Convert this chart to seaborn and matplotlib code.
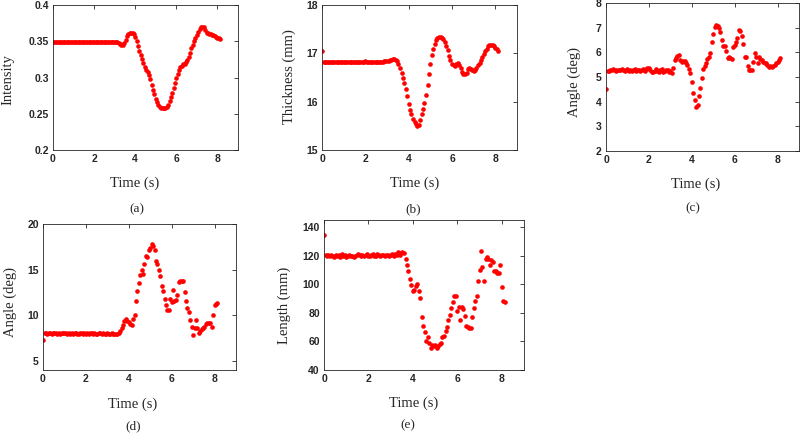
import matplotlib
matplotlib.use('Agg')
import matplotlib.pyplot as plt
import seaborn as sns

# frame times (15 fps)
time_s = [
    0.00, 0.07, 0.13, 0.20, 0.27, 0.33, 0.40, 0.47, 0.53, 0.60,
    0.67, 0.73, 0.80, 0.87, 0.93, 1.00, 1.07, 1.13, 1.20, 1.27,
    1.33, 1.40, 1.47, 1.53, 1.60, 1.67, 1.73, 1.80, 1.87, 1.93,
    2.00, 2.07, 2.13, 2.20, 2.27, 2.33, 2.40, 2.47, 2.53, 2.60,
    2.67, 2.73, 2.80, 2.87, 2.93, 3.00, 3.07, 3.13, 3.20, 3.27,
    3.33, 3.40, 3.47, 3.53, 3.60, 3.67, 3.73, 3.80, 3.87, 3.93,
    4.00, 4.07, 4.13, 4.20, 4.27, 4.33, 4.40, 4.47, 4.53, 4.60,
    4.67, 4.73, 4.80, 4.87, 4.93, 5.00, 5.07, 5.13, 5.20, 5.27,
    5.33, 5.40, 5.47, 5.53, 5.60, 5.67, 5.73, 5.80, 5.87, 5.93,
    6.00, 6.07, 6.13, 6.20, 6.27, 6.33, 6.40, 6.47, 6.53, 6.60,
    6.67, 6.73, 6.80, 6.87, 6.93, 7.00, 7.07, 7.13, 7.20, 7.27,
    7.33, 7.40, 7.47, 7.53, 7.60, 7.67, 7.73, 7.80, 7.87, 7.93,
    8.00, 8.07, 8.13,
]

intensity = [
    0.3495, 0.3494, 0.3493, 0.3493, 0.3492, 0.3492, 0.3491, 0.3491, 0.3490, 0.3490,
    0.3490, 0.3489, 0.3489, 0.3489, 0.3488, 0.3488, 0.3488, 0.3488, 0.3487, 0.3487,
    0.3487, 0.3487, 0.3487, 0.3487, 0.3487, 0.3487, 0.3487, 0.3487, 0.3487, 0.3487,
    0.3487, 0.3487, 0.3487, 0.3487, 0.3487, 0.3487, 0.3487, 0.3488, 0.3488, 0.3488,
    0.3488, 0.3488, 0.3488, 0.3488, 0.3489, 0.3490, 0.3490, 0.3485, 0.3470, 0.3460,
    0.3448, 0.3445, 0.3470, 0.3520, 0.3570, 0.3600, 0.3615, 0.3620, 0.3620, 0.3600,
    0.3560, 0.3500, 0.3430, 0.3370, 0.3310, 0.3250, 0.3200, 0.3150, 0.3110, 0.3070,
    0.3030, 0.2980, 0.2900, 0.2830, 0.2770, 0.2710, 0.2660, 0.2620, 0.2595, 0.2580,
    0.2575, 0.2575, 0.2580, 0.2590, 0.2620, 0.2670, 0.2730, 0.2790, 0.2860, 0.2930,
    0.2990, 0.3050, 0.3100, 0.3140, 0.3160, 0.3180, 0.3190, 0.3210, 0.3240, 0.3280,
    0.3340, 0.3400, 0.3450, 0.3500, 0.3550, 0.3590, 0.3630, 0.3670, 0.3690, 0.3700,
    0.3690, 0.3660, 0.3620, 0.3610, 0.3600, 0.3600, 0.3590, 0.3580, 0.3570, 0.3560,
    0.3550, 0.3540, 0.3535,
]

thickness_mm = [
    17.05, 16.82, 16.83, 16.82, 16.82, 16.83, 16.82, 16.82, 16.82, 16.83,
    16.82, 16.82, 16.82, 16.82, 16.83, 16.82, 16.82, 16.82, 16.82, 16.82,
    16.83, 16.82, 16.82, 16.82, 16.82, 16.83, 16.82, 16.82, 16.83, 16.83,
    16.84, 16.83, 16.83, 16.83, 16.82, 16.82, 16.83, 16.83, 16.82, 16.83,
    16.83, 16.83, 16.83, 16.84, 16.84, 16.84, 16.85, 16.86, 16.87, 16.88,
    16.88, 16.87, 16.84, 16.78, 16.70, 16.60, 16.49, 16.38, 16.26, 16.12,
    15.95, 15.83, 15.74, 15.65, 15.58, 15.53, 15.49, 15.52, 15.62, 15.74,
    15.84, 15.98, 16.14, 16.34, 16.58, 16.78, 16.97, 17.10, 17.20, 17.28,
    17.32, 17.34, 17.34, 17.32, 17.29, 17.24, 17.16, 17.06, 16.95, 16.86,
    16.78, 16.75, 16.74, 16.78, 16.79, 16.76, 16.70, 16.62, 16.58, 16.57,
    16.60, 16.67, 16.69, 16.67, 16.65, 16.64, 16.66, 16.70, 16.75, 16.81,
    16.86, 16.92, 16.98, 17.04, 17.10, 17.16, 17.18, 17.18, 17.17, 17.16,
    17.12, 17.08, 17.05,
]

angle_c_deg = [
    4.51, 5.24, 5.26, 5.30, 5.28, 5.33, 5.27, 5.25, 5.30, 5.29,
    5.27, 5.31, 5.28, 5.24, 5.30, 5.32, 5.25, 5.29, 5.23, 5.28,
    5.32, 5.26, 5.30, 5.27, 5.24, 5.29, 5.31, 5.26, 5.33, 5.36,
    5.38, 5.30, 5.22, 5.19, 5.26, 5.33, 5.25, 5.21, 5.28, 5.31,
    5.20, 5.24, 5.29, 5.27, 5.22, 5.25, 5.16, 5.35, 5.70, 5.78,
    5.85, 5.91, 5.70, 5.62, 5.66, 5.65, 5.58, 5.47, 5.34, 5.18,
    4.78, 4.36, 4.05, 3.80, 3.88, 4.25, 4.56, 4.96, 5.32, 5.43,
    5.58, 5.72, 5.83, 5.97, 6.40, 6.75, 7.02, 7.09, 7.06, 6.97,
    6.82, 6.52, 6.27, 6.26, 6.05, 5.78, 5.82, 5.76, 5.73, 6.20,
    6.29, 6.42, 6.58, 6.90, 6.88, 6.65, 6.32, 5.83, 5.80, 5.46,
    5.28, 5.28, 5.30, 5.62, 5.98, 5.83, 5.58, 5.82, 5.74, 5.69,
    5.62, 5.56, 5.55, 5.49, 5.42, 5.44, 5.41, 5.43, 5.48, 5.56,
    5.60, 5.68, 5.76,
]

angle_d_deg = [
    7.25, 8.02, 8.05, 8.00, 8.06, 8.03, 7.98, 8.04, 8.01, 8.07,
    8.00, 8.03, 7.97, 8.05, 8.02, 8.06, 8.01, 7.99, 8.04, 8.00,
    8.03, 7.98, 8.02, 8.05, 8.00, 7.96, 8.03, 8.01, 7.99, 8.04,
    8.00, 8.02, 7.97, 8.03, 8.01, 7.98, 8.04, 8.00, 7.99, 8.02,
    8.01, 7.97, 8.03, 7.99, 8.00, 8.02, 7.96, 7.98, 8.01, 7.95,
    7.97, 7.99, 7.94, 8.05, 8.25, 8.55, 8.95, 9.36, 9.60, 9.40,
    9.25, 9.05, 8.95, 9.60, 10.00, 11.60, 12.70, 13.50, 14.45, 14.93,
    14.53, 15.62, 16.53, 16.38, 17.10, 17.37, 17.80, 17.55, 17.10, 15.90,
    15.60, 14.93, 14.27, 13.25, 12.70, 11.83, 11.10, 10.63, 10.56, 11.83,
    11.43, 12.80, 11.54, 11.65, 12.27, 13.60, 13.73, 13.78, 13.73, 12.52,
    11.54, 10.81, 10.38, 9.43, 8.70, 7.79, 8.56, 9.43, 8.63, 8.08,
    8.27, 8.52, 8.63, 8.74, 9.07, 9.10, 9.10, 9.10, 8.74, 9.98,
    11.07, 11.18, 11.30,
]

length_mm = [
    134.2, 120.5, 119.8, 120.3, 119.5, 120.6, 120.0, 119.3, 120.8, 119.7,
    120.2, 119.0, 121.0, 119.6, 120.4, 119.2, 119.8, 120.5, 119.5, 120.1,
    119.4, 119.8, 120.3, 121.5, 120.2, 119.6, 120.7, 119.9, 120.4, 121.0,
    120.1, 119.7, 120.6, 120.9, 120.0, 119.8, 121.2, 120.3, 119.6, 120.5,
    120.2, 119.9, 120.8, 120.4, 119.7, 120.6, 121.0, 119.8, 121.5, 120.7,
    122.3, 120.5, 122.0, 122.8, 121.8, 117.7, 113.5, 109.5, 103.4, 99.4,
    95.5, 95.9, 99.0, 100.0, 95.5, 90.1, 77.2, 70.5, 66.5, 60.4,
    63.2, 58.6, 55.7, 57.6, 56.9, 57.6, 55.7, 56.9, 58.1, 58.6,
    63.2, 63.9, 67.0, 69.8, 74.9, 78.4, 83.1, 87.8, 92.0, 92.0,
    81.5, 84.3, 74.9, 83.9, 82.6, 77.9, 70.9, 69.8, 69.3, 69.3,
    76.8, 83.3, 88.5, 91.7, 102.0, 110.0, 123.5, 111.8, 102.5, 117.7,
    118.8, 117.7, 113.7, 117.0, 115.3, 109.5, 109.5, 107.9, 107.9, 113.5,
    98.3, 88.5, 87.3,
]

W, H = 800, 433
INK = '#262626'
SERIF = ['Liberation Serif', 'DejaVu Serif']

sns.set_style('white')
plt.rcParams['font.family'] = ['Liberation Sans', 'DejaVu Sans']

fig = plt.figure(figsize=(W / 100, H / 100), dpi=100)


def fx(x):
    return x / W


def fy(y):
    return 1 - y / H


# box (left, top, right, bottom) in px, label centres in px
panels = [
    dict(y=intensity, ylabel='Intensity', ylim=(0.2, 0.4),
         yticks=[0.2, 0.25, 0.3, 0.35, 0.4], box=(53, 5, 238, 150),
         xl=(135, 183), yl=(8, 80), cap=(137, 209), name='(a)'),
    dict(y=thickness_mm, ylabel='Thickness (mm)', ylim=(15, 18),
         yticks=[15, 16, 17, 18], box=(322, 5, 517, 150),
         xl=(415, 183), yl=(289, 77), cap=(413, 209), name='(b)'),
    dict(y=angle_c_deg, ylabel='Angle (deg)', ylim=(2, 8),
         yticks=[2, 3, 4, 5, 6, 7, 8], box=(606, 3, 799, 151),
         xl=(696, 184), yl=(574, 82), cap=(693, 208), name='(c)'),
    dict(y=angle_d_deg, ylabel='Angle (deg)', ylim=(4, 20),
         yticks=[5, 10, 15, 20], box=(43, 224, 236, 370),
         xl=(133, 404), yl=(10, 302), cap=(133, 426), name='(d)'),
    dict(y=length_mm, ylabel='Length (mm)', ylim=(40, 145),
         yticks=[40, 60, 80, 100, 120, 140], box=(324, 220, 524, 370),
         xl=(414, 403), yl=(284, 305), cap=(408, 425), name='(e)'),
]

for p in panels:
    l, t, r, b = p['box']
    ax = fig.add_axes([fx(l), fy(b), (r - l) / W, (b - t) / H])
    sns.scatterplot(x=time_s, y=p['y'], ax=ax, color='#ff0000', s=11,
                    linewidth=0, legend=False)
    ax.set_xlim(0, 9)
    ax.set_ylim(*p['ylim'])
    xt = [0, 2, 4, 6, 8]
    ax.set_xticks(xt, labels=['%g' % v for v in xt], fontweight='bold')
    ax.set_yticks(p['yticks'], labels=['%g' % v for v in p['yticks']],
                  fontweight='bold')
    ax.tick_params(direction='in', top=True, right=True, length=3,
                   width=0.6, colors=INK, labelsize=7.5, pad=3)
    for s in ax.spines.values():
        s.set_visible(True)
        s.set_color(INK)
        s.set_linewidth(0.6)
    ax.set_xlabel('')
    ax.set_ylabel('')

    fig.text(fx(p['xl'][0]), fy(p['xl'][1]), 'Time (s)', family=SERIF,
             size=10.5, ha='center', va='center')
    fig.text(fx(p['yl'][0]), fy(p['yl'][1]), p['ylabel'], family=SERIF,
             size=10.5, rotation=90, ha='center', va='center')
    fig.text(fx(p['cap'][0]), fy(p['cap'][1]), p['name'], family=SERIF,
             size=9.5, ha='center', va='center')

fig.savefig('out.png', dpi=100)
